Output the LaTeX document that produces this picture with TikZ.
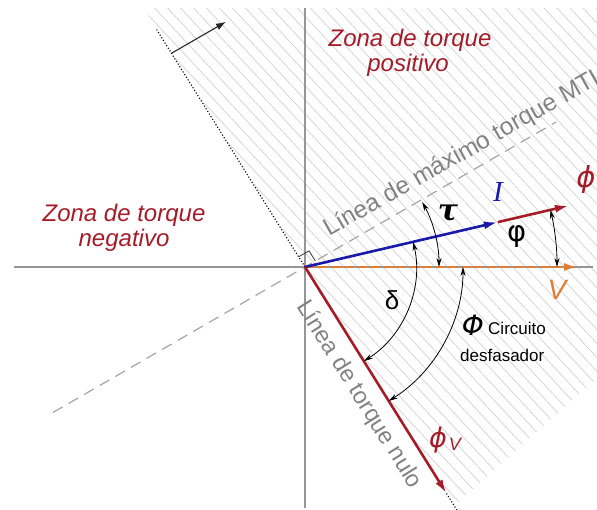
\documentclass[tikz,border=0pt]{standalone}
\usepackage{fontspec}
\setmainfont{Liberation Sans}
\newfontfamily\dvs{DejaVu Sans}
\newfontfamily\dvserif{DejaVu Serif}
\newfontfamily\lserif{Liberation Serif}
\usetikzlibrary{arrows.meta,calc}
\definecolor{dred}{RGB}{165,28,40}
\definecolor{dblue}{RGB}{25,25,170}
\definecolor{vorange}{RGB}{224,125,50}
\definecolor{hatchgray}{RGB}{212,212,212}
\definecolor{axisgray}{RGB}{150,150,150}
\definecolor{txtgray}{RGB}{130,130,130}
\definecolor{dashgray}{RGB}{165,165,165}
\begin{document}
\begin{tikzpicture}[x=1pt,y=1pt,
  vec/.style={line width=2.6pt, -{Latex[length=14pt,width=8pt]}},
  angarc/.style={line width=0.8pt, {Stealth[length=9pt,width=5pt]}-{Stealth[length=9pt,width=5pt]}},
  lbl/.style={inner sep=0pt},
  zone/.style={lbl, text=dred, font=\fontsize{24}{28}\selectfont\itshape, anchor=base},
  graytxt/.style={lbl, text=txtgray, font=\fontsize{23.5}{27}\selectfont},
  axis/.style={axisgray, line width=1.2pt},
]
\useasboundingbox (-305,-243) rectangle (292,267);
\clip (-305,-243) rectangle (292,267);

% hatched half-plane
\begin{scope}
\clip (-161,259) -- (292,259) -- (292,-111) -- (150,-238) -- cycle;
\foreach \i in {-8,...,45}{
  \draw[hatchgray, line width=0.75pt] ({\i*6.945-477},{\i*6.479+512}) -- ({\i*6.945+477},{\i*6.479-512});
}
\end{scope}

% key points
\coordinate (O) at (0,0);
\coordinate (axL) at (-291,0);
\coordinate (axR) at (288,0);
\coordinate (axT) at (0,259);
\coordinate (axB) at (0,-241);
\coordinate (mtLL) at (210:291);
\coordinate (mtUR) at (30:290);
\coordinate (zTop) at (122:280);
\coordinate (phiV) at (-58:267);
\coordinate (zBot) at (-58:292);
\coordinate (Vtip) at (273,0);
\coordinate (Itip) at (13.1:198);
\coordinate (Phitip) at (13.1:271);
\coordinate (arS) at (122:252);
\coordinate (arE) at ($(arS)+(30:63)$);
\coordinate (ra1) at (30:12);
\coordinate (ra2) at ($(30:12)+(122:12)$);
\coordinate (ra3) at (122:12);

% axes
\draw[axis] (axL) -- (axR);
\draw[axis] (axT) -- (axB);

% max torque line
\draw[dashgray, line width=1.2pt, dash pattern=on 11pt off 7pt] (mtLL) -- (mtUR);

% zero torque line (dotted parts)
\draw[black, line width=1.1pt, dotted] (O) -- (zTop);
\draw[black, line width=1.1pt, dotted] (phiV) -- (zBot);

% right angle mark
\draw[black!80, line width=0.8pt] (ra1) -- (ra2) -- (ra3);

% direction arrow
\draw[black!85, line width=1.1pt, -{Latex[length=10pt,width=7pt]}] (arS) -- (arE);

% vectors
\draw[vorange, line width=2.6pt, dash pattern=on 10pt off 3pt, -{Latex[length=14pt,width=8pt]}] (O) -- (Vtip);
\draw[vec, dblue] (O) -- (Itip);
\draw[vec, dred] (Itip) -- (Phitip);
\draw[vec, dred] (O) -- (phiV);

% angle arcs
\draw[angarc] (0:134) arc[start angle=0, end angle=29, radius=134];
\draw[angarc] (0:252) arc[start angle=0, end angle=13.1, radius=252];
\draw[angarc] (13.1:111) arc[start angle=13.1, end angle=-58, radius=111];
\draw[angarc] (0:158) arc[start angle=0, end angle=-58, radius=158];

% texts
\node[zone] (zp1) at (105,220) {Zona de torque};
\node[zone] (zp2) at (103,195) {positivo};
\node[zone] (zn1) at (-181,45) {Zona de torque};
\node[zone] (zn2) at (-181,20) {negativo};

\node[graytxt, font=\fontsize{24.5}{28}\selectfont, rotate=29.5, anchor=base west] (mtl) at (24,30) {Línea de máximo torque MTL};
\node[graytxt, rotate=-58, anchor=center] (ztl) at (54,-128) {Línea de torque nulo};

\node[lbl, font=\fontsize{30}{32}\selectfont\dvserif\bfseries\itshape] (tau) at (143,54) {τ};
\node[lbl, text=dblue, font=\fontsize{29}{32}\selectfont\lserif\itshape] (Ilbl) at (193,75) {I};
\node[lbl, text=dred, font=\fontsize{29}{32}\selectfont\dvs\itshape] (philbl) at (281,87) {ϕ};
\node[lbl, font=\fontsize{29}{32}\selectfont\dvs] (varphilbl) at (212,30) {φ};
\node[lbl, text=vorange, font=\fontsize{28}{30}\selectfont\itshape] (Vlbl) at (252,-23) {V};
\node[lbl, font=\fontsize{26}{30}\selectfont] (dlbl) at (87,-33) {δ};
\node[lbl, font=\fontsize{28}{30}\selectfont\dvs\itshape] (Philbl) at (168,-58) {Φ};
\node[lbl, font=\fontsize{17}{20}\selectfont, anchor=base west] (circ) at (183,-68) {Circuito};
\node[lbl, font=\fontsize{17}{20}\selectfont, anchor=base west] (desf) at (155,-95) {desfasador};
\node[lbl, text=dred, font=\fontsize{27}{30}\selectfont\dvs\itshape] (phiVlbl) at (133,-173) {ϕ};
\node[lbl, text=dred, font=\fontsize{18}{20}\selectfont\itshape] (phiVsub) at (150,-177) {V};
\end{tikzpicture}
\end{document}
